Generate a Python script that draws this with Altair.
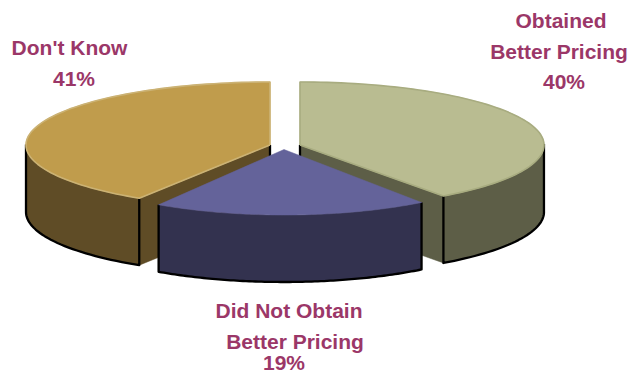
import numpy as np
import pandas as pd
import altair as alt

# Survey shares, in percent, clockwise from the top of the pie
names = ["Obtained Better Pricing", "Did Not Obtain Better Pricing", "Don't Know"]
shares = [40, 19, 41]

top_colors = ["#B9BC91", "#64639A", "#C09C4C"]
wall_colors = ["#5D5E47", "#33324F", "#5F4C26"]
rim_colors = ["#A8AC80", "#64639A", "#CBB274"]

# Exploded-slice geometry: centre x, centre y, horizontal and vertical radius
centres_x = [300, 284, 270]
centres_y = [145, 149.5, 145]
radii_x = [244, 234, 244]
radii_y = [63, 65.5, 63]
depth = 67

label_lines = ["Don't Know", "41%", "Obtained", "Better Pricing", "40%",
               "Did Not Obtain", "Better Pricing", "19%"]
label_x = [69.5, 74, 561, 559, 564, 289, 295, 284]
label_y = [55, 86, 28, 59, 89, 318, 349, 370]

X = alt.X("x:Q", scale=alt.Scale(domain=[0, 633], nice=False, zero=False), axis=None)
Y = alt.Y("y:Q", scale=alt.Scale(domain=[373, 0], nice=False, zero=False), axis=None)


def frame(xs, ys):
    return pd.DataFrame({"x": xs, "y": ys, "i": np.arange(len(xs))})


def filled(xs, ys, color):
    xs = np.append(xs, xs[0])
    ys = np.append(ys, ys[0])
    return (alt.Chart(frame(xs, ys))
            .mark_line(fill=color, stroke=color, strokeWidth=0.5, fillOpacity=1)
            .encode(x=X, y=Y, order="i:Q"))


def edge(xs, ys, color="#000000", width=2.3):
    return (alt.Chart(frame(np.asarray(xs, float), np.asarray(ys, float)))
            .mark_line(stroke=color, strokeWidth=width, strokeJoin="round")
            .encode(x=X, y=Y, order="i:Q"))


# Angle span of each slice, measured clockwise from the top
ends = np.cumsum(shares) / 100 * 2 * np.pi
starts = np.concatenate([[0], ends[:-1]])

layers = {"inner": [], "outer": [], "top": [], "front": []}
for k in range(3):
    cx, cy, a, b = centres_x[k], centres_y[k], radii_x[k], radii_y[k]
    t = np.linspace(starts[k], ends[k], 90)
    rx = cx + a * np.sin(t)
    ry = cy - b * np.cos(t)
    top = filled(np.append(rx, cx), np.append(ry, cy), top_colors[k])
    rim = edge(np.append(np.append(cx, rx), cx), np.append(np.append(cy, ry), cy),
               rim_colors[k], 1.6)

    # The outer wall only shows along the front half of the rim
    m = np.cos(t) <= 0.02
    wx, wy = rx[m], ry[m]
    wall = filled(np.concatenate([wx, wx[::-1]]),
                  np.concatenate([wy, wy[::-1] + depth]), wall_colors[k])
    bottom = edge(np.concatenate([[wx[0]], wx, [wx[-1]]]),
                  np.concatenate([[wy[0]], wy + depth, [wy[-1]]]))

    if k == 1:
        layers["front"] += [wall, bottom, top]
        continue

    # Cut face between the slice centre and the rim corner nearest the viewer
    i = -1 if k == 0 else 0
    face = filled(np.array([cx, rx[i], rx[i], cx]),
                  np.array([cy, ry[i], ry[i] + depth, cy + depth]), wall_colors[k])
    face_edge = edge([cx, cx], [cy, cy + depth])
    layers["inner"] += [face, face_edge]
    layers["outer"] += [wall, bottom]
    layers["top"] += [top, rim]

labels = (alt.Chart(pd.DataFrame({"x": label_x, "y": label_y, "t": label_lines}))
          .mark_text(font="Liberation Sans", fontWeight="bold", fontSize=21,
                     color="#9B3768", align="center", baseline="alphabetic")
          .encode(x=X, y=Y, text="t:N"))

chart = (alt.layer(*layers["inner"], *layers["outer"], *layers["top"],
                   *layers["front"], labels)
         .properties(width=633, height=373, padding=0,
                     autosize=alt.AutoSizeParams(type="none"))
         .configure_view(stroke=None))

chart.save("out.html", embed_options={"renderer": "svg", "actions": False})
